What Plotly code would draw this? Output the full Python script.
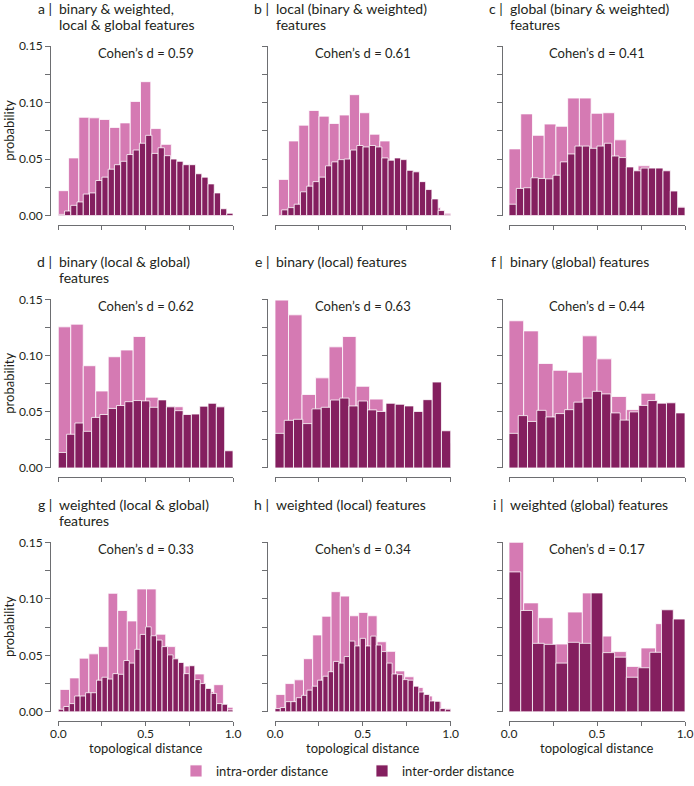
import numpy as np
import plotly.graph_objects as go

# ---------------- data ----------------
dist_ticks = [0.0, 0.25, 0.5, 0.75, 1.0]
dist_labels = ["0.0", "", "0.5", "", "1.0"]
prob_ticks = [0.0, 0.025, 0.05, 0.075, 0.10, 0.125, 0.15]
prob_labels = ["0.00", "", "0.05", "", "0.10", "", "0.15"]

series_names = ["intra-order distance", "inter-order distance"]

panel_letters = ["a", "b", "c", "d", "e", "f", "g", "h", "i"]
panel_titles = [
    ["binary & weighted,", "local & global features"],
    ["local (binary & weighted)", "features"],
    ["global (binary & weighted)", "features"],
    ["binary (local & global)", "features"],
    ["binary (local) features"],
    ["binary (global) features"],
    ["weighted (local & global)", "features"],
    ["weighted (local) features"],
    ["weighted (global) features"],
]
cohens_d = [0.59, 0.61, 0.41, 0.62, 0.63, 0.44, 0.33, 0.34, 0.17]

# histogram values (probability per bin) and the data range the bins cover
a_intra_range = [0.0, 1.0]
a_intra = [0.022, 0.051, 0.087, 0.0865, 0.085, 0.078, 0.082, 0.101, 0.1185, 0.077,
           0.063, 0.045, 0.040, 0.033, 0.025, 0.005, 0.002]
a_inter_range = [0.0, 1.0]
a_inter = [0.001, 0.004, 0.009, 0.012, 0.019, 0.020, 0.031, 0.034, 0.041, 0.045,
           0.048, 0.054, 0.058, 0.064, 0.071, 0.055, 0.060, 0.053, 0.050, 0.048,
           0.045, 0.045, 0.037, 0.034, 0.028, 0.020, 0.006, 0.002]

b_intra_range = [0.02, 1.0]
b_intra = [0.032, 0.066, 0.080, 0.093, 0.088, 0.0815, 0.089, 0.107, 0.091, 0.072,
           0.066, 0.045, 0.040, 0.025, 0.015, 0.007, 0.002]
b_inter_range = [0.038, 1.0]
b_inter = [0.005, 0.007, 0.010, 0.021, 0.026, 0.030, 0.034, 0.044, 0.0475, 0.0495,
           0.050, 0.058, 0.062, 0.0607, 0.062, 0.0607, 0.051, 0.049, 0.051, 0.0495,
           0.040, 0.0387, 0.030, 0.023, 0.0147, 0.0044, 0.0006]

c_intra_range = [0.0, 1.0]
c_intra = [0.059, 0.090, 0.071, 0.081, 0.079, 0.104, 0.104, 0.0905, 0.091, 0.067,
           0.039, 0.044, 0.042, 0.022, 0.008]
c_inter_range = [0.0, 1.0]
c_inter = [0.010, 0.024, 0.0246, 0.0334, 0.0328, 0.0325, 0.0357, 0.0475, 0.0545, 0.0615,
           0.0615, 0.0595, 0.0615, 0.064, 0.0527, 0.0513, 0.043, 0.0396, 0.042, 0.042,
           0.042, 0.0396, 0.0217, 0.0073]

d_intra_range = [0.0, 1.0]
d_intra = [0.1256, 0.128, 0.091, 0.0685, 0.099, 0.105, 0.117, 0.063, 0.052, 0.0545,
           0.044, 0.030, 0.015, 0.008]
d_inter_range = [0.0, 1.0]
d_inter = [0.0138, 0.030, 0.040, 0.0326, 0.045, 0.0476, 0.053, 0.0556, 0.059, 0.060,
           0.0597, 0.054, 0.0606, 0.0544, 0.051, 0.0476, 0.048, 0.055, 0.0576, 0.0544,
           0.0153]

e_intra_range = [0.0, 1.0]
e_intra = [0.1494, 0.1363, 0.0654, 0.0802, 0.1078, 0.117, 0.0727, 0.0613, 0.048, 0.050,
           0.045, 0.045, 0.022]
e_inter_range = [0.0, 1.0]
e_inter = [0.0308, 0.0424, 0.0433, 0.0395, 0.0526, 0.054, 0.0605, 0.0622, 0.0552, 0.0596,
           0.0517, 0.0503, 0.0576, 0.0567, 0.0552, 0.0503, 0.0608, 0.0765, 0.0331]

f_intra_range = [0.0, 1.0]
f_intra = [0.131, 0.122, 0.093, 0.0869, 0.0852, 0.1176, 0.0971, 0.0636, 0.0519, 0.0665,
           0.045, 0.040]
f_inter_range = [0.0, 1.0]
f_inter = [0.0308, 0.0466, 0.0414, 0.0513, 0.0454, 0.0484, 0.0519, 0.0586, 0.0621, 0.0682,
           0.0659, 0.049, 0.0426, 0.0499, 0.0557, 0.060, 0.0577, 0.058, 0.049]

g_intra_range = [0.01, 1.0]
g_intra = [0.0198, 0.030, 0.0475, 0.0513, 0.0577, 0.1049, 0.0897, 0.0804, 0.1087, 0.1087,
           0.0687, 0.0577, 0.040, 0.0405, 0.0335, 0.018, 0.024, 0.004]
g_inter_range = [0.0, 1.0]
g_inter = [0.0023, 0.0047, 0.0073, 0.014, 0.014, 0.0169, 0.0169, 0.028, 0.0306, 0.029,
           0.0338, 0.0332, 0.0454, 0.0431, 0.0553, 0.0685, 0.0752, 0.0673, 0.0635, 0.0577,
           0.0504, 0.0469, 0.0437, 0.0338, 0.0408, 0.0285, 0.025, 0.0207, 0.0163, 0.0073,
           0.0067, 0.0017]

h_intra_range = [0.005, 1.0]
h_intra = [0.0153, 0.025, 0.0283, 0.047, 0.068, 0.0846, 0.1063, 0.1024, 0.085, 0.088,
           0.085, 0.062, 0.0535, 0.0362, 0.031, 0.0215, 0.014, 0.009, 0.003]
h_inter_range = [0.0, 1.0]
h_inter = [0.0029, 0.0038, 0.009, 0.009, 0.0125, 0.0146, 0.0192, 0.0227, 0.028, 0.0315,
           0.0355, 0.0446, 0.0431, 0.0489, 0.0626, 0.0583, 0.065, 0.0583, 0.067, 0.0591,
           0.0533, 0.0431, 0.0335, 0.0329, 0.0285, 0.028, 0.0227, 0.0175, 0.0154, 0.0096,
           0.0093, 0.0029, 0.0023]

i_intra_range = [0.0, 1.0]
i_intra = [0.150, 0.0964, 0.0833, 0.060, 0.0883, 0.1052, 0.067, 0.0533, 0.0402, 0.0565,
           0.078, 0.080]
i_inter_range = [0.0, 1.0]
i_inter = [0.1238, 0.0897, 0.0606, 0.0597, 0.0431, 0.0615, 0.0606, 0.1052, 0.0524, 0.0484,
           0.0306, 0.039, 0.0527, 0.0903, 0.0821]

intra_sets = [(a_intra, a_intra_range), (b_intra, b_intra_range), (c_intra, c_intra_range),
              (d_intra, d_intra_range), (e_intra, e_intra_range), (f_intra, f_intra_range),
              (g_intra, g_intra_range), (h_intra, h_intra_range), (i_intra, i_intra_range)]
inter_sets = [(a_inter, a_inter_range), (b_inter, b_inter_range), (c_inter, c_inter_range),
              (d_inter, d_inter_range), (e_inter, e_inter_range), (f_inter, f_inter_range),
              (g_inter, g_inter_range), (h_inter, h_inter_range), (i_inter, i_inter_range)]

# ---------------- styling / layout ----------------
W, H = 694, 786
FONT = "Lato"
PINK = "#d57ab3"
PLUM = "#841f5f"
TXT = "#231f20"
AXC = "#6d6e71"

col_x = [(58.3, 233.0), (275.0, 450.7), (509.0, 685.0)]   # data 0 -> 1 (px)
col_yline = [50.0, 267.0, 501.7]                          # y-axis line (px)
row_top = [46.7, 303.3, 549.3]                            # p = 0.15 (px)
row_bot = [218.3, 474.0, 721.0]                           # p = 0.00 (px)
row_xline = [227.7, 483.3, 730.0]                         # x-axis line (px)
title_line1 = [8.6, 264.5, 511.0]                         # title line centres (px)
title_gap = 16.5


def px_x(p):
    return p / W


def px_y(p):
    return 1 - p / H


fig = go.Figure()
layout_axes = {}
annotations = []

for k in range(9):
    r, c = divmod(k, 3)
    sfx = "" if k == 0 else str(k + 1)
    for (vals, rng), color, name in [(intra_sets[k], PINK, series_names[0]),
                                     (inter_sets[k], PLUM, series_names[1])]:
        n = len(vals)
        edges = np.linspace(rng[0], rng[1], n + 1)
        centers = 0.5 * (edges[:-1] + edges[1:])
        fig.add_trace(go.Bar(
            x=centers, y=vals, width=(rng[1] - rng[0]) / n,
            marker=dict(color=color, line=dict(color="white", width=0.8)),
            name=name, legendgroup=name, showlegend=(k == 0),
            xaxis="x" + sfx, yaxis="y" + sfx, hoverinfo="skip",
        ))

    x0, x1 = col_x[c]
    layout_axes["xaxis" + sfx] = dict(
        domain=[px_x(x0), px_x(x1)], range=[0, 1], anchor="free",
        position=px_y(row_xline[r]), showline=True, linecolor=AXC, linewidth=1,
        ticks="outside", ticklen=4, tickwidth=1, tickcolor=AXC,
        tickmode="array", tickvals=dist_ticks,
        ticktext=dist_labels if r == 2 else [""] * len(dist_ticks),
        tickfont=dict(family=FONT, size=12, color=TXT), ticklabeloverflow="allow",
        ticklabelstandoff=-2,
        showgrid=False, zeroline=False, fixedrange=True, automargin=False,
    )
    layout_axes["yaxis" + sfx] = dict(
        domain=[px_y(row_bot[r]), px_y(row_top[r])], range=[0, 0.15], anchor="free",
        position=px_x(col_yline[c]), showline=True, linecolor=AXC, linewidth=1,
        ticks="outside", ticklen=5, tickwidth=1, tickcolor=AXC,
        tickmode="array", tickvals=prob_ticks,
        ticktext=prob_labels if c == 0 else [""] * len(prob_ticks),
        tickfont=dict(family=FONT, size=12, color=TXT), ticklabeloverflow="allow",
        showgrid=False, zeroline=False, fixedrange=True, automargin=False,
    )

    # panel title: letter + bar, then text lines
    annotations.append(dict(
        text=panel_letters[k] + " |", x=px_x(x0 - 4), y=px_y(title_line1[r]),
        xref="paper", yref="paper", xanchor="right", yanchor="middle",
        showarrow=False, font=dict(family=FONT, size=14, color=TXT)))
    for li, line in enumerate(panel_titles[k]):
        annotations.append(dict(
            text=line, x=px_x(x0 - 1), y=px_y(title_line1[r] + li * title_gap),
            xref="paper", yref="paper", xanchor="left", yanchor="middle",
            showarrow=False, font=dict(family=FONT, size=14, color=TXT)))

    # Cohen's d
    annotations.append(dict(
        text="Cohen’s d = %.2f" % cohens_d[k], x=0.5, xref="x" + sfx,
        y=px_y(row_top[r] + 6.5), yref="paper", xanchor="center", yanchor="middle",
        showarrow=False, font=dict(family=FONT, size=13, color=TXT)))

    if c == 0:
        annotations.append(dict(
            text="probability", x=px_x(9), y=px_y(0.5 * (row_top[r] + row_bot[r])),
            xref="paper", yref="paper", xanchor="center", yanchor="middle",
            textangle=-90, showarrow=False, font=dict(family=FONT, size=13, color=TXT)))
    if r == 2:
        annotations.append(dict(
            text="topological distance", x=0.5, xref="x" + sfx, y=px_y(758), yref="paper",
            xanchor="center", yanchor="middle", showarrow=False,
            font=dict(family=FONT, size=13, color=TXT)))

fig.update_layout(
    template="none",
    width=W, height=H, autosize=False,
    margin=dict(l=0, r=0, t=0, b=0),
    paper_bgcolor="white", plot_bgcolor="white",
    barmode="overlay",
    font=dict(family=FONT, size=12, color=TXT),
    showlegend=True,
    legend=dict(orientation="h", x=px_x(176), y=px_y(781), xanchor="left", yanchor="middle",
                font=dict(family=FONT, size=13, color=TXT), entrywidth=141,
                bgcolor="rgba(0,0,0,0)", traceorder="normal"),
    annotations=annotations,
    **layout_axes,
)

page_fix = (
    "var de=document.documentElement, b=document.body;"
    "de.style.margin='0';de.style.padding='0';de.style.overflow='hidden';"
    "de.style.height='786px';"
    "b.style.margin='0';b.style.padding='0';b.style.overflow='hidden';"
    "b.style.height='786px';"
    "var gd=document.getElementById('{plot_id}');"
    "if(gd&&gd.parentNode){gd.parentNode.style.height='786px';"
    "gd.parentNode.style.overflow='hidden';gd.style.display='block';}"
)

fig.write_html(
    "out.html",
    config={"displayModeBar": False, "staticPlot": True},
    post_script=page_fix,
)
